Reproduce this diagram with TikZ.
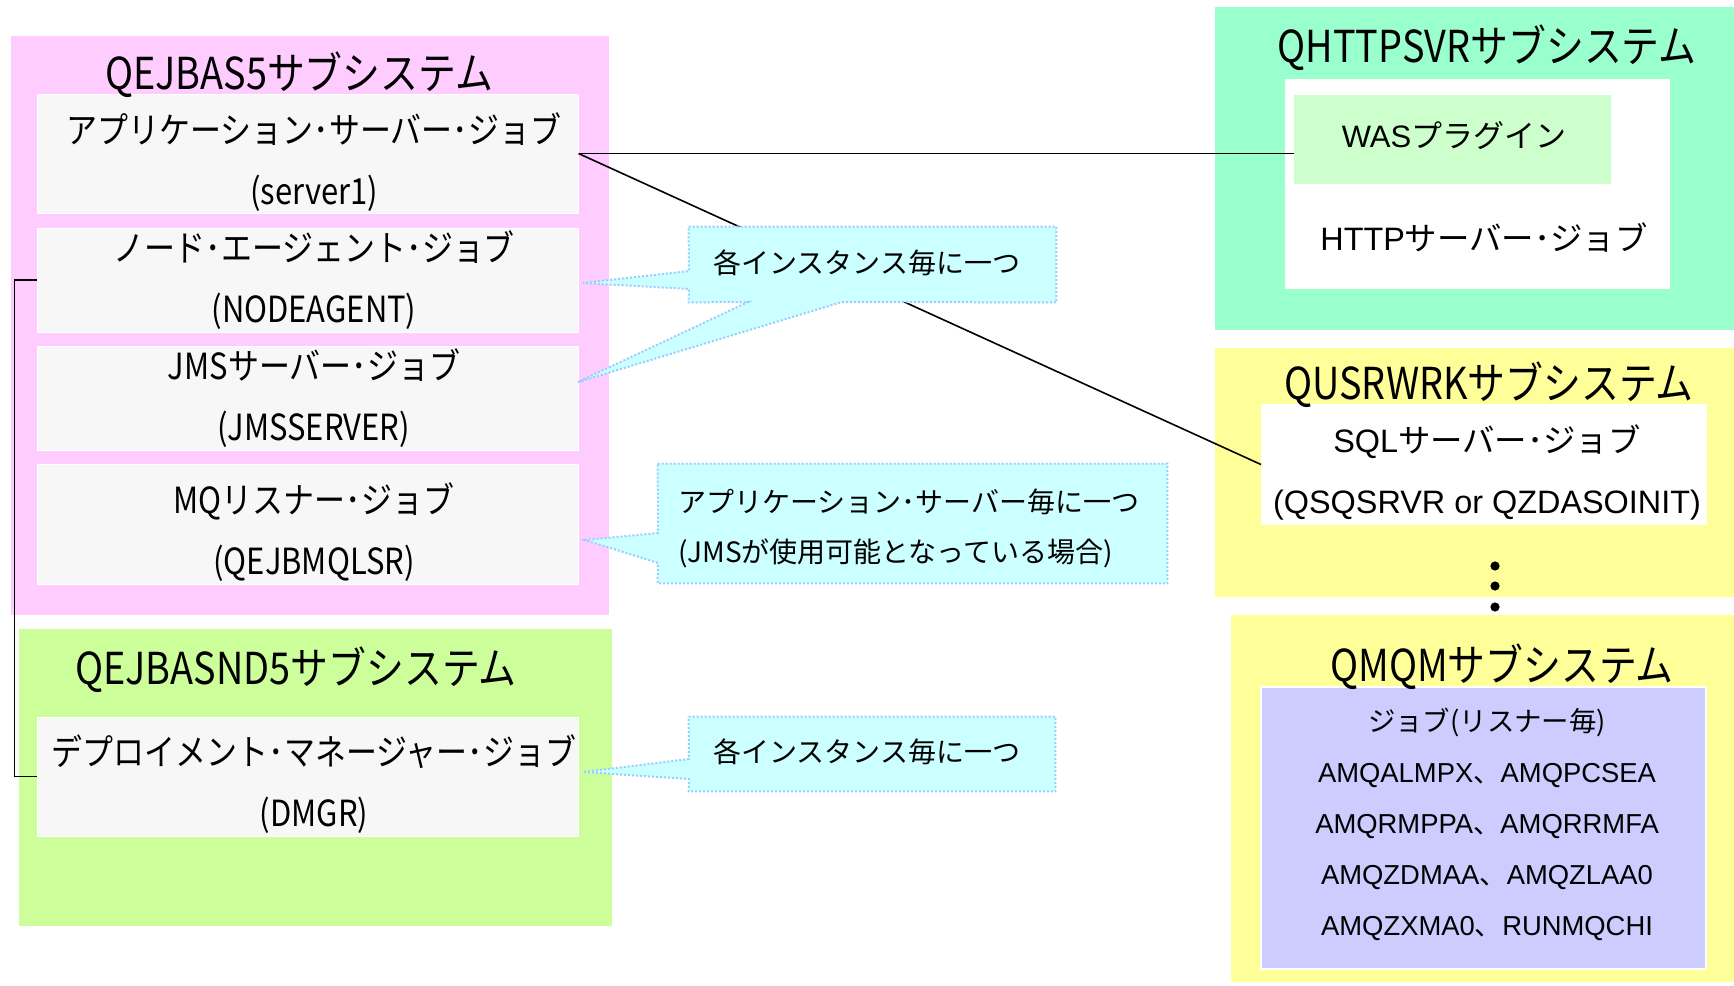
\documentclass[tikz,border=0pt]{standalone}
\usepackage{fontspec}
\setmainfont{Noto Sans CJK JP}
\newfontfamily\cjkcond[FakeStretch=0.86]{Noto Sans CJK JP}
\newfontfamily\lat{Liberation Sans}
\usetikzlibrary{fit,calc}
\definecolor{pinkbg}{HTML}{FFCCFF}
\definecolor{limebg}{HTML}{CCFF99}
\definecolor{mintbg}{HTML}{99FFCC}
\definecolor{wasbg}{HTML}{CCFFCC}
\definecolor{yellowbg}{HTML}{FFFF99}
\definecolor{lavbg}{HTML}{CCCCFF}
\definecolor{boxgray}{HTML}{F7F7F7}
\definecolor{callfill}{HTML}{CCFFFF}
\definecolor{callline}{HTML}{99CCFF}
\begin{document}
\begin{tikzpicture}[x=0.5pt,y=-0.5pt,
  area/.style={fill=#1, draw=none, inner sep=0pt},
  jobbox/.style={fill=boxgray, draw=white, line width=0.5pt, inner sep=0pt},
  innerbox/.style={fill=#1, draw=white, line width=1pt, inner sep=0pt},
  titletext/.style={font=\cjkcond\fontsize{22}{26}\selectfont, inner sep=0pt},
  jobtext/.style={font=\cjkcond\fontsize{18}{30.5}\selectfont, align=center, inner sep=0pt},
  righttext/.style={font=\fontsize{16.2}{30.5}\selectfont, align=center, inner sep=0pt},
  lavtext/.style={font=\fontsize{13.7}{25.5}\selectfont, align=center, inner sep=0pt},
  calltext/.style={font=\fontsize{14}{25}\selectfont, align=left, inner sep=0pt},
  callshape/.style={fill=callfill, draw=callline, line width=1pt, dash pattern=on 1pt off 1pt},
  link/.style={draw=black, line width=0.8pt}]
\useasboundingbox (0,0) rectangle (1734,985);

% subsystem areas
\node[area=pinkbg, fit={(11,36)(609,615)}] (qejbas5) {};
\node[area=limebg, fit={(19,629)(612,926)}] (qejbasnd5) {};
\node[area=mintbg, fit={(1215,7)(1734,330)}] (qhttp) {};
\node[area=yellowbg, fit={(1215,348)(1734,597)}] (qusrwrk) {};
\node[area=yellowbg, fit={(1231,615)(1734,982)}] (qmqm) {};

% job boxes
\node[jobbox, fit={(37,94)(578,213)}] (b1) {};
\node[jobbox, fit={(37,228)(578,332)}] (b2) {};
\node[jobbox, fit={(37,346)(578,450)}] (b3) {};
\node[jobbox, fit={(37,464)(578,584)}] (b4) {};
\node[jobbox, fit={(37,717)(578,836)}] (b5) {};
\node[innerbox=white, fit={(1286,80)(1669,288)}] (httpjob) {};
\node[area=wasbg, fit={(1294,95)(1611,184)}] (was) {};
\node[innerbox=white, fit={(1262,405)(1706,524)}] (sql) {};
\node[innerbox=lavbg, fit={(1261,687)(1706,969)}] (mqjobs) {};

% connectors
\draw[link] (b1.east) -- (b1.east -| was.west);
\draw[link] (b1.east) -- (sql.west);
\draw[link] (b2.west) -- ++(-22,0) |- (b5.west);

% callouts
\node[inner sep=0pt, fit={(689,227)(1056,302)}] (c1) {};
\coordinate (c1t1) at (583,283);
\coordinate (c1t2) at (578,382);
\draw[callshape] (c1.north west) -- (c1.north east) -- (c1.south east)
  -- (842,302) -- (c1t2) -- (748,302) -- (c1.south west)
  -- (689,289) -- (c1t1) -- (689,271) -- cycle;
\node[calltext, anchor=west] (c1text) at (713,263) {各インスタンス毎に一つ};

\node[inner sep=0pt, fit={(658,464)(1167,583)}] (c2) {};
\coordinate (c2t) at (585,540);
\draw[callshape] (c2.north west) -- (c2.north east) -- (c2.south east)
  -- (c2.south west) -- (658,563) -- (c2t) -- (658,533) -- cycle;
\node[calltext, anchor=west] (c2text) at (678,528) {アプリケーション･サーバー毎に一つ\\(JMSが使用可能となっている場合)};

\node[inner sep=0pt, fit={(689,717)(1055,791)}] (c3) {};
\coordinate (c3t) at (583,772);
\draw[callshape] (c3.north west) -- (c3.north east) -- (c3.south east)
  -- (c3.south west) -- (689,779) -- (c3t) -- (689,759) -- cycle;
\node[calltext, anchor=west] (c3text) at (713,752) {各インスタンス毎に一つ};

% titles
\node[titletext] (t1) at (299,75) {QEJBAS5サブシステム};
\node[titletext] (t2) at (296,670) {QEJBASND5サブシステム};
\node[titletext] (t3) at (1487,48) {QHTTPSVRサブシステム};
\node[titletext] (t4) at (1489,385) {QUSRWRKサブシステム};
\node[titletext] (t5) at (1502,667) {QMQMサブシステム};

% job texts
\node[jobtext] (b1text) at (314,162) {アプリケーション･サーバー･ジョブ\\(server1)};
\node[jobtext] (b2text) at (314,280.5) {ノード･エージェント･ジョブ\\(NODEAGENT)};
\node[jobtext] (b3text) at (314,398.5) {JMSサーバー･ジョブ\\(JMSSERVER)};
\node[jobtext] (b4text) at (314,532.5) {MQリスナー･ジョブ\\(QEJBMQLSR)};
\node[jobtext] (b5text) at (314,784.5) {デプロイメント･マネージャー･ジョブ\\(DMGR)};

\node[righttext, font=\fontsize{15.5}{20}\selectfont] (wastext) at (1454,136) {{\lat WAS}プラグイン};
\node[righttext] (httptext) at (1484,238) {{\lat HTTP}サーバー･ジョブ};
\node[righttext] (sqltext) at (1487,472.5) {{\lat SQL}サーバー･ジョブ\\{\lat (QSQSRVR or QZDASOINIT)}};
\node[lavtext] (mqtext) at (1487,824.5) {ジョブ(リスナー毎)\\{\lat AMQALMPX}、{\lat AMQPCSEA}\\{\lat AMQRMPPA}、{\lat AMQRRMFA}\\{\lat AMQZDMAA}、{\lat AMQZLAA0}\\{\lat AMQZXMA0}、{\lat RUNMQCHI}};

% continuation dots
\foreach \yy in {566,586,607} \fill (1495,\yy) circle (2.3pt);
\end{tikzpicture}
\end{document}
